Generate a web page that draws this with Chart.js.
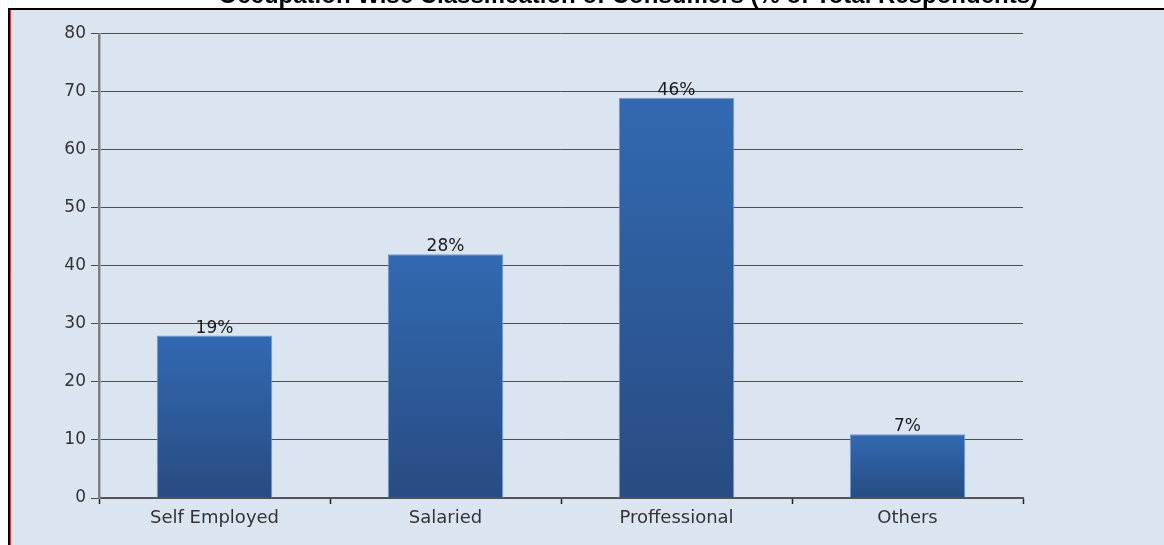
<!DOCTYPE html>
<html>
<head>
<meta charset="utf-8">
<script src="https://cdn.jsdelivr.net/npm/chart.js@4"></script>
<style>
  html, body { margin: 0; padding: 0; background: #ffffff; overflow: hidden; }
  #wrap { position: absolute; left: 0; top: -20px; width: 1164px; height: 565px; }
</style>
</head>
<body>
<div id="wrap"><canvas id="c" width="1164" height="565"></canvas></div>
<script>
const titleText = "Occupation Wise Classification of Consumers (% of Total Respondents)";
const categories = ["Self Employed", "Salaried", "Proffessional", "Others"];
const counts = [28, 42, 69, 11];
const percentLabels = ["19%", "28%", "46%", "7%"];
const yTicks = [0, 10, 20, 30, 40, 50, 60, 70, 80];

const OFFSET = 20; // canvas is shifted up by this many px

const panelPlugin = {
  id: 'panel',
  beforeDraw(chart) {
    const ctx = chart.ctx;
    ctx.save();
    ctx.fillStyle = '#ffffff';
    ctx.fillRect(0, 0, chart.width, chart.height);
    ctx.fillStyle = '#dbe5f1';
    ctx.fillRect(8, OFFSET + 8, chart.width - 8, chart.height - OFFSET - 8);
    ctx.strokeStyle = '#000000';
    ctx.lineWidth = 2;
    ctx.beginPath();
    ctx.moveTo(8, OFFSET + 9);
    ctx.lineTo(chart.width, OFFSET + 9);
    ctx.moveTo(9, OFFSET + 8);
    ctx.lineTo(9, chart.height);
    ctx.stroke();
    ctx.strokeStyle = '#e04040';
    ctx.lineWidth = 1;
    ctx.beginPath();
    ctx.moveTo(10.5, OFFSET + 10);
    ctx.lineTo(10.5, chart.height);
    ctx.stroke();
    ctx.restore();
  }
};

const labelPlugin = {
  id: 'barLabels',
  afterDatasetsDraw(chart) {
    const ctx = chart.ctx;
    const meta = chart.getDatasetMeta(0);
    ctx.save();
    ctx.font = '17px "DejaVu Sans"';
    ctx.fillStyle = '#1a1a1a';
    ctx.textAlign = 'center';
    ctx.textBaseline = 'alphabetic';
    meta.data.forEach((bar, i) => {
      ctx.fillText(percentLabels[i], bar.x, bar.y - 3);
    });
    ctx.restore();
  }
};

function barGradient(context) {
  const chart = context.chart;
  const area = chart.chartArea;
  if (!area) return '#2f63a8';
  const v = context.raw;
  const top = chart.scales.y.getPixelForValue(v);
  const g = chart.ctx.createLinearGradient(0, top, 0, area.bottom);
  g.addColorStop(0, '#3269b1');
  g.addColorStop(1, '#284c82');
  return g;
}

new Chart(document.getElementById('c'), {
  type: 'bar',
  data: {
    labels: categories,
    datasets: [{
      data: counts,
      backgroundColor: barGradient,
      borderColor: '#6f9ad6',
      borderWidth: 1,
      barPercentage: 0.5,
      categoryPercentage: 1.0
    }]
  },
  options: {
    responsive: false,
    animation: false,
    devicePixelRatio: 1,
    layout: { padding: { left: 0, right: 126, top: 0, bottom: 0 } },
    plugins: {
      legend: { display: false },
      tooltip: { enabled: false },
      title: {
        display: true,
        text: titleText,
        align: 'end',
        color: '#000000',
        font: { family: '"Liberation Sans", Arial, sans-serif', size: 24, weight: 'bold', lineHeight: 1.2 },
        padding: { top: 2, bottom: 23 }
      }
    },
    scales: {
      x: {
        grid: {
          display: true,
          offset: true,
          drawOnChartArea: false,
          drawTicks: true,
          tickLength: 6,
          tickColor: '#222222',
          tickWidth: 1.5
        },
        border: { display: true, color: '#555555', width: 1.5 },
        ticks: {
          color: '#333333',
          font: { family: '"DejaVu Sans"', size: 18 },
          padding: 4
        },
        afterFit(scale) { scale.height = 47; }
      },
      y: {
        min: 0,
        max: 80,
        afterBuildTicks(scale) { scale.ticks = yTicks.map(v => ({ value: v })); },
        grid: {
          color: '#4d4d4d',
          lineWidth: 1,
          drawTicks: true,
          tickLength: 8,
          tickColor: '#4d4d4d'
        },
        border: { display: true, color: '#808080', width: 2.5 },
        ticks: {
          color: '#333333',
          font: { family: '"DejaVu Sans"', size: 17 },
          padding: 5
        },
        afterFit(scale) { scale.width = 99; }
      },
      yRight: {
        position: 'right',
        display: true,
        grid: { display: false },
        border: { display: false },
        ticks: { display: false },
        afterFit(scale) { scale.width = 15; }
      }
    }
  },
  plugins: [panelPlugin, labelPlugin]
});
</script>
</body>
</html>
